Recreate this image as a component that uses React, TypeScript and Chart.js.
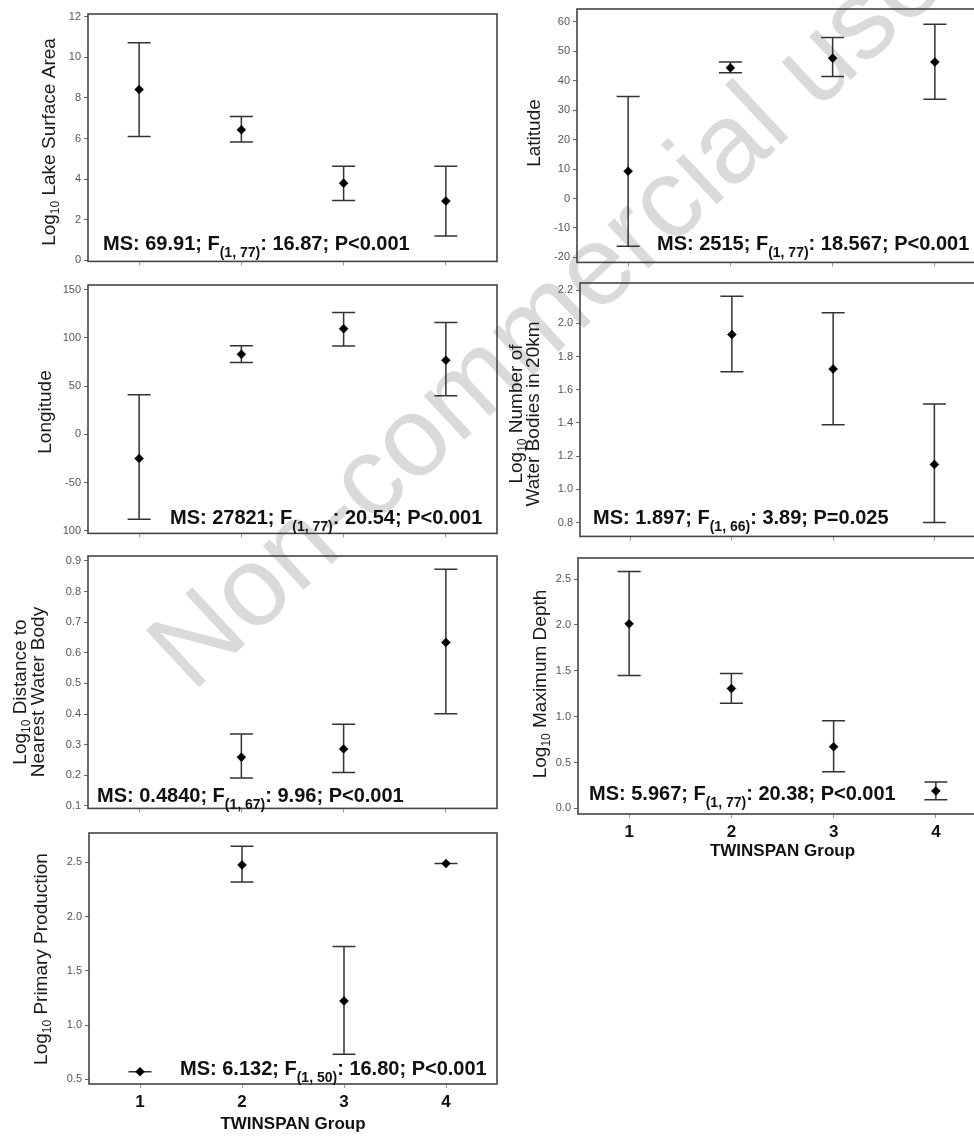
import React, { useEffect, useRef } from 'react';
import { Chart, registerables } from 'chart.js';

Chart.register(...registerables);

const FONT = '"Liberation Sans", Arial, Helvetica, sans-serif';
const GROUPS = ['1', '2', '3', '4'];

// 1. Log10 Lake Surface Area
const AREA_MEAN = [8.41, 6.43, 3.8, 2.92];
const AREA_LOW = [6.1, 5.83, 2.95, 1.2];
const AREA_HIGH = [10.72, 7.08, 4.63, 4.63];
const AREA_TICKS = [0, 2, 4, 6, 8, 10, 12];
const AREA_TICK_LABELS = ['0', '2', '4', '6', '8', '10', '12'];
const AREA_STATS = ['MS: 69.91; F', '(1, 77)', ': 16.87; P<0.001'];

// 2. Latitude
const LAT_MEAN = [9.3, 44.4, 47.7, 46.4];
const LAT_LOW = [-16.2, 42.7, 41.5, 33.7];
const LAT_HIGH = [34.7, 46.4, 54.7, 59.2];
const LAT_TICKS = [-20, -10, 0, 10, 20, 30, 40, 50, 60];
const LAT_TICK_LABELS = ['-20', '-10', '0', '10', '20', '30', '40', '50', '60'];
const LAT_STATS = ['MS: 2515; F', '(1, 77)', ': 18.567; P<0.001'];

// 3. Longitude
const LON_MEAN = [-25, 83, 109.6, 77];
const LON_LOW = [-88, 74.5, 91.8, 40];
const LON_HIGH = [41, 92, 126.5, 116];
const LON_TICKS = [-100, -50, 0, 50, 100, 150];
const LON_TICK_LABELS = ['100', '-50', '0', '50', '100', '150'];
const LON_STATS = ['MS: 27821; F', '(1, 77)', ': 20.54; P<0.001'];

// 4. Log10 Number of Water Bodies in 20km
const WB_MEAN = [null, 1.933, 1.725, 1.15];
const WB_LOW = [null, 1.709, 1.389, 0.8];
const WB_HIGH = [null, 2.164, 2.065, 1.515];
const WB_TICKS = [0.8, 1.0, 1.2, 1.4, 1.6, 1.8, 2.0, 2.2];
const WB_TICK_LABELS = ['0.8', '1.0', '1.2', '1.4', '1.6', '1.8', '2.0', '2.2'];
const WB_STATS = ['MS: 1.897; F', '(1, 66)', ': 3.89; P=0.025'];

// 5. Log10 Distance to Nearest Water Body
const DIST_MEAN = [null, 0.259, 0.286, 0.634];
const DIST_LOW = [null, 0.191, 0.209, 0.401];
const DIST_HIGH = [null, 0.335, 0.367, 0.873];
const DIST_TICKS = [0.1, 0.2, 0.3, 0.4, 0.5, 0.6, 0.7, 0.8, 0.9];
const DIST_TICK_LABELS = ['0.1', '0.2', '0.3', '0.4', '0.5', '0.6', '0.7', '0.8', '0.9'];
const DIST_STATS = ['MS: 0.4840; F', '(1, 67)', ': 9.96; P<0.001'];

// 6. Log10 Maximum Depth
const DEPTH_MEAN = [2.012, 1.306, 0.672, 0.189];
const DEPTH_LOW = [1.448, 1.146, 0.4, 0.094];
const DEPTH_HIGH = [2.583, 1.47, 0.956, 0.287];
const DEPTH_TICKS = [0, 0.5, 1.0, 1.5, 2.0, 2.5];
const DEPTH_TICK_LABELS = ['0.0', '0.5', '1.0', '1.5', '2.0', '2.5'];
const DEPTH_STATS = ['MS: 5.967; F', '(1, 77)', ': 20.38; P<0.001'];

// 7. Log10 Primary Production
const PP_MEAN = [0.57, 2.476, 1.223, 2.488];
const PP_LOW = [0.57, 2.319, 0.731, 2.488];
const PP_HIGH = [0.57, 2.648, 1.724, 2.488];
const PP_TICKS = [0.5, 1.0, 1.5, 2.0, 2.5];
const PP_TICK_LABELS = ['0.5', '1.0', '1.5', '2.0', '2.5'];
const PP_STATS = ['MS: 6.132; F', '(1, 50)', ': 16.80; P<0.001'];

const X_TITLE = 'TWINSPAN Group';
const WATERMARK = 'Non-commercial use';

type Seg = { text: string; sub?: boolean };
type TitleLine = { segs: Seg[]; x: number };
type PanelDef = {
  means: (number | null)[];
  lows: (number | null)[];
  highs: (number | null)[];
  ticks: number[];
  tickLabels: string[];
  yMin: number;
  yMax: number;
  box: { l: number; t: number; r: number; b: number };
  title: TitleLine[];
  titleY: number;
  stats: string[];
  statX: number;
  statY: number;
  showX: boolean;
  xAxisH: number;
};

const AXIS_W = 88;
const PAD = 10;

const log10 = (rest: string): Seg[] => [{ text: 'Log' }, { text: '10', sub: true }, { text: rest }];

const PANELS: PanelDef[] = [
  {
    means: AREA_MEAN, lows: AREA_LOW, highs: AREA_HIGH, ticks: AREA_TICKS, tickLabels: AREA_TICK_LABELS,
    yMin: -0.05, yMax: 12.13, box: { l: 88, t: 14, r: 497, b: 263 },
    title: [{ segs: log10(' Lake Surface Area'), x: 48 }], titleY: 142,
    stats: AREA_STATS, statX: 103, statY: 250, showX: false, xAxisH: 8,
  },
  {
    means: LAT_MEAN, lows: LAT_LOW, highs: LAT_HIGH, ticks: LAT_TICKS, tickLabels: LAT_TICK_LABELS,
    yMin: -21.7, yMax: 64.4, box: { l: 577, t: 9, r: 986, b: 264 },
    title: [{ segs: [{ text: 'Latitude' }], x: 533 }], titleY: 133,
    stats: LAT_STATS, statX: 657, statY: 250, showX: false, xAxisH: 8,
  },
  {
    means: LON_MEAN, lows: LON_LOW, highs: LON_HIGH, ticks: LON_TICKS, tickLabels: LON_TICK_LABELS,
    yMin: -102.8, yMax: 155, box: { l: 88, t: 285, r: 497, b: 535 },
    title: [{ segs: [{ text: 'Longitude' }], x: 44 }], titleY: 412,
    stats: LON_STATS, statX: 170, statY: 524, showX: false, xAxisH: 8,
  },
  {
    means: WB_MEAN, lows: WB_LOW, highs: WB_HIGH, ticks: WB_TICKS, tickLabels: WB_TICK_LABELS,
    yMin: 0.716, yMax: 2.244, box: { l: 580, t: 283, r: 985, b: 538 },
    title: [{ segs: log10(' Number of'), x: 515 }, { segs: [{ text: 'Water Bodies in 20km' }], x: 532 }], titleY: 414,
    stats: WB_STATS, statX: 593, statY: 524, showX: false, xAxisH: 8,
  },
  {
    means: DIST_MEAN, lows: DIST_LOW, highs: DIST_HIGH, ticks: DIST_TICKS, tickLabels: DIST_TICK_LABELS,
    yMin: 0.092, yMax: 0.916, box: { l: 88, t: 556, r: 497, b: 810 },
    title: [{ segs: log10(' Distance to'), x: 19 }, { segs: [{ text: 'Nearest Water Body' }], x: 37 }], titleY: 692,
    stats: DIST_STATS, statX: 97, statY: 802, showX: false, xAxisH: 8,
  },
  {
    means: DEPTH_MEAN, lows: DEPTH_LOW, highs: DEPTH_HIGH, ticks: DEPTH_TICKS, tickLabels: DEPTH_TICK_LABELS,
    yMin: -0.062, yMax: 2.73, box: { l: 578, t: 558, r: 987, b: 814 },
    title: [{ segs: log10(' Maximum Depth'), x: 539 }], titleY: 684,
    stats: DEPTH_STATS, statX: 589, statY: 800, showX: true, xAxisH: 48,
  },
  {
    means: PP_MEAN, lows: PP_LOW, highs: PP_HIGH, ticks: PP_TICKS, tickLabels: PP_TICK_LABELS,
    yMin: 0.457, yMax: 2.77, box: { l: 89, t: 833, r: 497, b: 1084 },
    title: [{ segs: log10(' Primary Production'), x: 40 }], titleY: 959,
    stats: PP_STATS, statX: 180, statY: 1075, showX: true, xAxisH: 51,
  },
];

const TITLE_SIZE = 19;
const TITLE_SUB = 12;
const STAT_SIZE = 20;
const STAT_SUB = 14;

function makeDeco(p: PanelDef, ox: number, oy: number) {
  return {
    id: 'deco',
    beforeDatasetsDraw(chart: any) {
      const { ctx } = chart;
      const xs = chart.scales.x;
      const ys = chart.scales.y;
      ctx.save();
      ctx.strokeStyle = '#333';
      ctx.lineWidth = 1.5;
      p.means.forEach((m, i) => {
        if (m == null) return;
        const lo = p.lows[i] as number;
        const hi = p.highs[i] as number;
        const x = xs.getPixelForValue(i);
        const yl = ys.getPixelForValue(lo);
        const yh = ys.getPixelForValue(hi);
        ctx.beginPath();
        ctx.moveTo(x, yl);
        ctx.lineTo(x, yh);
        ctx.moveTo(x - 11.5, yl);
        ctx.lineTo(x + 11.5, yl);
        ctx.moveTo(x - 11.5, yh);
        ctx.lineTo(x + 11.5, yh);
        ctx.stroke();
      });
      ctx.restore();
    },
    afterDraw(chart: any) {
      const { ctx, chartArea: a } = chart;
      ctx.save();
      // frame
      ctx.strokeStyle = '#444';
      ctx.lineWidth = 1.6;
      ctx.strokeRect(a.left, a.top, a.right - a.left, a.bottom - a.top);

      // rotated y title
      ctx.fillStyle = '#1a1a1a';
      ctx.textBaseline = 'alphabetic';
      const main = `${TITLE_SIZE}px ${FONT}`;
      const sub = `${TITLE_SUB}px ${FONT}`;
      p.title.forEach((line) => {
        let total = 0;
        line.segs.forEach((s) => {
          ctx.font = s.sub ? sub : main;
          total += ctx.measureText(s.text).width;
        });
        ctx.save();
        ctx.translate(line.x - ox, p.titleY - oy);
        ctx.rotate(-Math.PI / 2);
        let x = -total / 2;
        const base = TITLE_SIZE * 0.36;
        line.segs.forEach((s) => {
          ctx.font = s.sub ? sub : main;
          ctx.textAlign = 'left';
          ctx.fillText(s.text, x, s.sub ? base + 4 : base);
          x += ctx.measureText(s.text).width;
        });
        ctx.restore();
      });

      // statistics annotation
      ctx.fillStyle = '#111';
      ctx.textAlign = 'left';
      let sx = p.statX - ox;
      const sy = p.statY - oy;
      p.stats.forEach((t, i) => {
        const isSub = i === 1;
        ctx.font = isSub ? `bold ${STAT_SUB}px ${FONT}` : `bold ${STAT_SIZE}px ${FONT}`;
        ctx.fillText(t, sx, isSub ? sy + 7 : sy);
        sx += ctx.measureText(t).width;
      });
      ctx.restore();
    },
  };
}

function Panel({ p }: { p: PanelDef }) {
  const ref = useRef<HTMLCanvasElement>(null);
  const left = p.box.l - AXIS_W;
  const top = p.box.t - PAD;
  const w = p.box.r + PAD - left;
  const h = p.box.b + p.xAxisH - top;

  useEffect(() => {
    const chart = new Chart(ref.current as HTMLCanvasElement, {
      type: 'line',
      data: {
        labels: GROUPS,
        datasets: [
          {
            data: p.means as any,
            showLine: false,
            pointStyle: 'rectRot',
            pointRadius: 4.5,
            pointBackgroundColor: '#000',
            pointBorderColor: '#000',
            pointBorderWidth: 0.5,
            backgroundColor: '#000',
            borderColor: '#000',
          },
        ],
      },
      options: {
        animation: false,
        responsive: false,
        maintainAspectRatio: false,
        devicePixelRatio: 1,
        layout: { padding: { left: 0, top: PAD, right: PAD, bottom: 0 } },
        plugins: { legend: { display: false }, tooltip: { enabled: false } },
        scales: {
          x: {
            type: 'category',
            offset: true,
            grid: { display: true, drawOnChartArea: false, drawTicks: true, tickLength: 4, color: '#999', offset: false },
            border: { display: false },
            ticks: {
              display: p.showX,
              padding: 4,
              color: '#111',
              font: { family: FONT, size: 17, weight: 'bold' },
            },
            title: {
              display: p.showX,
              text: X_TITLE,
              color: '#111',
              padding: 0,
              font: { family: FONT, size: 17, weight: 'bold' },
            },
            afterFit: (s: any) => {
              s.height = p.xAxisH;
            },
          },
          y: {
            type: 'linear',
            min: p.yMin,
            max: p.yMax,
            afterBuildTicks: (s: any) => {
              s.ticks = p.ticks.map((v) => ({ value: v }));
            },
            grid: { display: true, drawOnChartArea: false, drawTicks: true, tickLength: 4, color: '#666' },
            border: { display: false },
            ticks: {
              padding: 3,
              color: '#555',
              font: { family: FONT, size: 11 },
              callback: (_v: any, i: number) => p.tickLabels[i],
            },
            afterFit: (s: any) => {
              s.width = AXIS_W;
            },
          },
        },
      } as any,
      plugins: [makeDeco(p, left, top)],
    });
    return () => chart.destroy();
  }, []);

  return (
    <canvas
      ref={ref}
      width={w}
      height={h}
      style={{ position: 'absolute', left, top, width: w, height: h }}
    />
  );
}

export default function App() {
  return (
    <div
      style={{
        position: 'absolute',
        left: 0,
        top: 0,
        width: 974,
        height: 1137,
        overflow: 'hidden',
        background: '#fff',
      }}
    >
      <div
        style={{
          position: 'absolute',
          left: 545,
          top: 312,
          transform: 'translate(-50%, -50%) rotate(-43deg)',
          fontFamily: FONT,
          fontSize: 113,
          lineHeight: 1,
          color: '#dadada',
          whiteSpace: 'nowrap',
        }}
      >
        {WATERMARK}
      </div>
      {PANELS.map((p, i) => (
        <Panel key={i} p={p} />
      ))}
    </div>
  );
}
